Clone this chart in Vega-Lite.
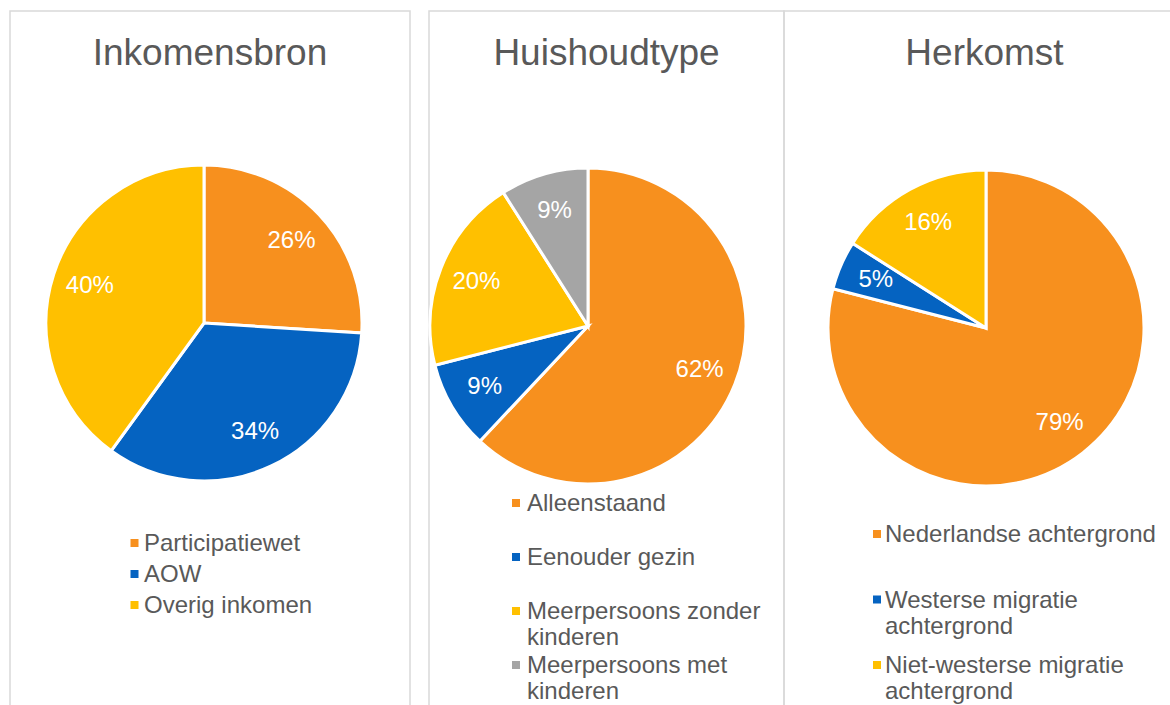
{
  "$schema": "https://vega.github.io/schema/vega-lite/v6.json",
  "padding": {"left": 9, "top": 10, "right": 0, "bottom": 0},
  "background": "white",
  "config": {
    "view": {"stroke": "#D9D9D9", "strokeWidth": 1.5},
    "font": "Liberation Sans",
    "title": {"font": "Liberation Sans", "fontSize": 37, "fontWeight": "normal", "color": "#595959", "anchor": "middle", "baseline": "alphabetic", "offset": -62},
    "legend": {"padding": 0, "labelFont": "Liberation Sans", "labelFontSize": 24, "labelColor": "#595959", "labelLimit": 0, "symbolType": "M-1,1.75H1V3.75H-1Z", "symbolSize": 64, "symbolStrokeWidth": 0, "symbolOpacity": 1, "labelBaseline": "top", "clipHeight": 8, "gridAlign": "all"}
  },
  "datasets": {
    "inkomen": [
      {"cat": "Participatiewet", "v": 0.26, "i": 1},
      {"cat": "AOW", "v": 0.34, "i": 2},
      {"cat": "Overig inkomen", "v": 0.40, "i": 3}
    ],
    "huishouden": [
      {"cat": "Alleenstaand", "v": 0.62, "i": 1},
      {"cat": "Eenouder gezin", "v": 0.09, "i": 2},
      {"cat": "Meerpersoons zonder kinderen", "v": 0.20, "i": 3},
      {"cat": "Meerpersoons met kinderen", "v": 0.09, "i": 4}
    ],
    "herkomst": [
      {"cat": "Nederlandse achtergrond", "v": 0.79, "i": 1},
      {"cat": "Westerse migratie achtergrond", "v": 0.05, "i": 2},
      {"cat": "Niet-westerse migratie achtergrond", "v": 0.16, "i": 3}
    ]
  },
  "spacing": 19,
  "bounds": "flush",
  "resolve": {"scale": {"color": "independent", "theta": "independent"}, "legend": {"color": "independent"}},
  "hconcat": [
    {
      "width": 400, "height": 695,
      "view": {"stroke": "#D9D9D9", "strokeWidth": 1.5},
      "title": "Inkomensbron",
      "data": {"name": "inkomen"},
      "encoding": {
        "theta": {"field": "v", "type": "quantitative", "stack": true},
        "order": {"field": "i", "type": "quantitative"}
      },
      "layer": [
        {
          "mark": {"type": "arc", "outerRadius": 158, "stroke": "white", "strokeWidth": 3, "xOffset": -6, "yOffset": -35.5},
          "encoding": {
            "color": {"field": "cat", "type": "nominal",
              "scale": {"domain": ["Participatiewet", "AOW", "Overig inkomen"], "range": ["#F7901E", "#0563C1", "#FFC000"]},
              "legend": {"title": null, "orient": "none", "legendX": 112.5, "legendY": 517, "rowPadding": 3, "labelOffset": -2.5}}
          }
        },
        {
          "mark": {"type": "text", "radius": 120, "fontSize": 24, "color": "white", "font": "Liberation Sans", "xOffset": -6, "yOffset": -35.5},
          "encoding": {"text": {"field": "v", "type": "quantitative", "format": ".0%"}}
        }
      ]
    },
    {
      "spacing": 0,
      "bounds": "flush",
      "resolve": {"scale": {"color": "independent", "theta": "independent"}, "legend": {"color": "independent"}},
      "hconcat": [
        {
          "width": 355, "height": 695,
          "view": {"stroke": "#D9D9D9", "strokeWidth": 1.5},
          "title": "Huishoudtype",
          "data": {"name": "huishouden"},
          "encoding": {
            "theta": {"field": "v", "type": "quantitative", "stack": true},
            "order": {"field": "i", "type": "quantitative"}
          },
          "layer": [
            {
              "mark": {"type": "arc", "outerRadius": 158, "stroke": "white", "strokeWidth": 3, "xOffset": -18.5, "yOffset": -32.5},
              "encoding": {
                "color": {"field": "cat", "type": "nominal",
                  "scale": {"domain": ["Alleenstaand", "Eenouder gezin", "Meerpersoons zonder kinderen", "Meerpersoons met kinderen"], "range": ["#F7901E", "#0563C1", "#FFC000", "#A5A5A5"]},
                  "legend": {"title": null, "orient": "none", "legendX": 75, "legendY": 477, "rowPadding": 0, "labelOffset": -1,
                    "labelExpr": "datum.label == 'Meerpersoons zonder kinderen' ? ['Meerpersoons zonder', 'kinderen'] : datum.label == 'Meerpersoons met kinderen' ? ['Meerpersoons met', 'kinderen'] : datum.label"}}
              }
            },
            {
              "mark": {"type": "text", "radius": 120, "fontSize": 24, "color": "white", "font": "Liberation Sans", "xOffset": -18.5, "yOffset": -32.5},
              "encoding": {"text": {"field": "v", "type": "quantitative", "format": ".0%"}}
            }
          ]
        },
        {
          "width": 387, "height": 695,
          "view": {"stroke": "#D9D9D9", "strokeWidth": 1.5},
          "title": {"text": "Herkomst", "dx": 7},
          "data": {"name": "herkomst"},
          "encoding": {
            "theta": {"field": "v", "type": "quantitative", "stack": true},
            "order": {"field": "i", "type": "quantitative"}
          },
          "layer": [
            {
              "mark": {"type": "arc", "outerRadius": 158, "stroke": "white", "strokeWidth": 3, "xOffset": 8.5, "yOffset": -30.5},
              "encoding": {
                "color": {"field": "cat", "type": "nominal",
                  "scale": {"domain": ["Nederlandse achtergrond", "Westerse migratie achtergrond", "Niet-westerse migratie achtergrond"], "range": ["#F7901E", "#0563C1", "#FFC000"]},
                  "legend": {"title": null, "orient": "none", "legendX": 81, "legendY": 508, "rowPadding": 11.5, "labelOffset": -4,
                    "labelExpr": "datum.label == 'Westerse migratie achtergrond' ? ['Westerse migratie', 'achtergrond'] : datum.label == 'Niet-westerse migratie achtergrond' ? ['Niet-westerse migratie', 'achtergrond'] : datum.label"}}
              }
            },
            {
              "mark": {"type": "text", "radius": 120, "fontSize": 24, "color": "white", "font": "Liberation Sans", "xOffset": 8.5, "yOffset": -30.5},
              "encoding": {"text": {"field": "v", "type": "quantitative", "format": ".0%"}}
            }
          ]
        }
      ]
    }
  ]
}
